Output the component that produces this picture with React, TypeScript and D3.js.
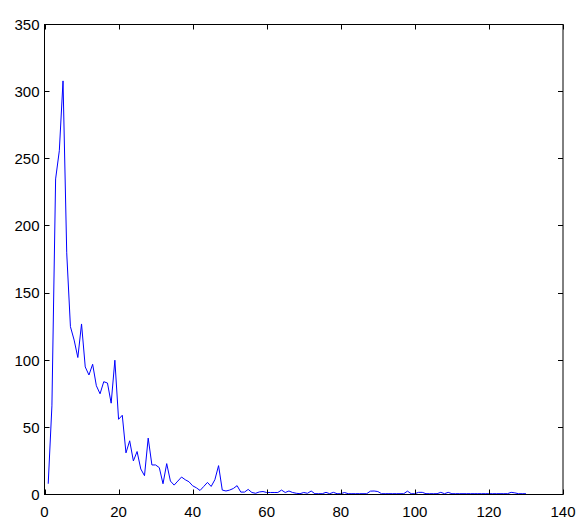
import React, { useEffect, useRef } from 'react';
import * as d3 from 'd3';

// counts, x = 1..130
const values: number[] = [
  8, 66, 235, 256, 308, 180, 125, 115, 102, 127,
  95, 89, 97, 81, 75, 84, 83, 68, 100, 56,
  59, 31, 40, 25, 32, 19, 14, 42, 22, 22,
  20, 8, 23, 10, 7, 10, 13, 11, 9.5, 6.5,
  5, 3, 6, 9, 6, 11, 21.5, 3.3, 2.6, 3.3,
  4.5, 6.6, 1.8, 1.8, 3.8, 1.5, 0.9, 1.9, 2.2, 1.5,
  1.5, 1.5, 1.5, 3.3, 1.5, 2.6, 1.5, 0.9, 0.6, 1.5,
  0.9, 2.6, 0.6, 0.6, 0.6, 1.6, 0.6, 1.6, 0.6, 0.6,
  1.5, 0.6, 0.6, 0.6, 0.6, 0.6, 0.6, 2.5, 2.6, 2.2,
  0.6, 0.6, 0.6, 0.6, 0.6, 0.6, 0.6, 2.5, 0.6, 0.6,
  1.6, 1.6, 0.6, 0.6, 0.6, 0.6, 1.6, 0.6, 1.6, 0.6,
  0.6, 0.6, 0.6, 0.6, 0.6, 0.6, 0.6, 0.6, 0.6, 0.6,
  0.6, 0.6, 0.6, 0.6, 0.6, 1.6, 1.2, 0.6, 0.6, 0.6,
];
const xs: number[] = values.map((_, i) => i + 1);

const xTicks: number[] = [0, 20, 40, 60, 80, 100, 120, 140];
const yTicks: number[] = [0, 50, 100, 150, 200, 250, 300, 350];

const App = () => {
  const ref = useRef<SVGSVGElement>(null);

  useEffect(() => {
    const width = 576;
    const height = 518;
    const left = 44.5, right = 563, top = 24.5, bottom = 494.5;

    const svg = d3.select(ref.current)
      .attr('width', width)
      .attr('height', height);

    svg.selectAll('*').remove();

    const x = d3.scaleLinear().domain([0, 140]).range([left, right]);
    const y = d3.scaleLinear().domain([0, 350]).range([bottom, top]);

    const font = "'Liberation Sans', Arial, sans-serif";
    const tickLen = 5;

    // data line
    const line = d3.line<number>()
      .x((_, i) => x(xs[i]))
      .y(d => y(d));

    svg.append('path')
      .datum(values)
      .attr('d', line)
      .attr('fill', 'none')
      .attr('stroke', '#0000ff')
      .attr('stroke-width', 1);

    // box
    svg.append('rect')
      .attr('x', left)
      .attr('y', top)
      .attr('width', right - left)
      .attr('height', bottom - top)
      .attr('fill', 'none')
      .attr('stroke', 'black')
      .attr('stroke-width', 1);

    // x ticks (bottom and top, pointing in)
    const gx = svg.append('g');
    xTicks.forEach(t => {
      const px = Math.round(x(t)) + 0.5;
      gx.append('line')
        .attr('x1', px).attr('x2', px)
        .attr('y1', bottom).attr('y2', bottom - tickLen)
        .attr('stroke', 'black');
      gx.append('line')
        .attr('x1', px).attr('x2', px)
        .attr('y1', top).attr('y2', top + tickLen)
        .attr('stroke', 'black');
      gx.append('text')
        .attr('x', x(t))
        .attr('y', bottom + 22)
        .attr('text-anchor', 'middle')
        .attr('font-family', font)
        .attr('font-size', 15)
        .attr('fill', 'black')
        .text(t);
    });

    // y ticks (left and right, pointing in)
    const gy = svg.append('g');
    yTicks.forEach(t => {
      const py = Math.round(y(t) - 0.5) + 0.5;
      gy.append('line')
        .attr('x1', left).attr('x2', left + tickLen)
        .attr('y1', py).attr('y2', py)
        .attr('stroke', 'black');
      gy.append('line')
        .attr('x1', right).attr('x2', right - tickLen)
        .attr('y1', py).attr('y2', py)
        .attr('stroke', 'black');
      gy.append('text')
        .attr('x', left - 5)
        .attr('y', y(t))
        .attr('dy', '0.36em')
        .attr('text-anchor', 'end')
        .attr('font-family', font)
        .attr('font-size', 15)
        .attr('fill', 'black')
        .text(t);
    });
  }, []);

  return (
    <svg ref={ref} style={{ position: 'absolute', left: 0, top: 0, background: 'white' }}></svg>
  );
};

export default App;
